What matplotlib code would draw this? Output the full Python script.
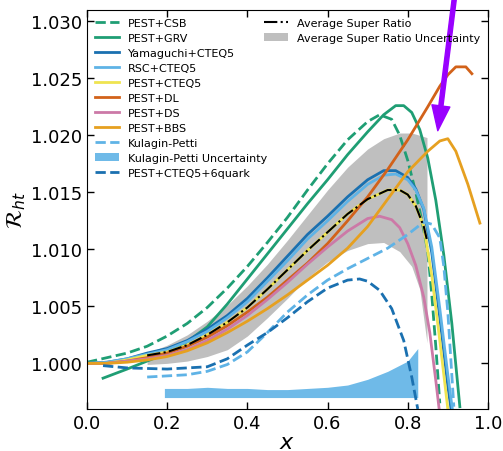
import matplotlib.pyplot as plt

# colours (Okabe-Ito style, a touch softer like the original)
GREEN = '#1f9e74'
BLUE = '#1a70b0'
LBLUE = '#5fb3e6'
YELLOW = '#efe450'
RED = '#d2621a'
PINK = '#cc79a7'
ORANGE = '#e6a020'

# ---- data ----
x_csb = [0.0, 0.05, 0.1, 0.15, 0.2, 0.25, 0.3, 0.35, 0.4, 0.45, 0.5, 0.55, 0.6, 0.65,
         0.7, 0.73, 0.76, 0.78, 0.8, 0.82, 0.84, 0.85, 0.86, 0.87, 0.88]
r_csb = [1.0001, 1.0005, 1.0009, 1.0015, 1.0024, 1.0035, 1.0049, 1.0066, 1.0085, 1.0106,
         1.0128, 1.0152, 1.0175, 1.0196, 1.0212, 1.0218, 1.0214, 1.0200, 1.0178, 1.0150,
         1.0117, 1.0098, 1.0060, 1.0015, 0.9965]

x_grv = [0.04, 0.1, 0.15, 0.2, 0.25, 0.3, 0.35, 0.4, 0.45, 0.5, 0.55, 0.6, 0.65, 0.7,
         0.74, 0.77, 0.79, 0.81, 0.83, 0.85, 0.87, 0.89, 0.91, 0.93]
r_grv = [0.9987, 0.9995, 1.0002, 1.0009, 1.0019, 1.0032, 1.0052, 1.0074, 1.0096, 1.0118,
         1.0140, 1.0161, 1.0183, 1.0203, 1.0218, 1.0226, 1.0226, 1.0220, 1.0205, 1.0180,
         1.0143, 1.0095, 1.0035, 0.9962]

x_yam = [0.0, 0.05, 0.1, 0.15, 0.2, 0.25, 0.3, 0.35, 0.4, 0.45, 0.5, 0.55, 0.6, 0.65,
         0.7, 0.74, 0.77, 0.8, 0.82, 0.84, 0.86, 0.88, 0.9, 0.91]
r_yam = [1.0000, 1.0001, 1.0004, 1.0009, 1.0013, 1.0020, 1.0030, 1.0042, 1.0057, 1.0075,
         1.0094, 1.0113, 1.0129, 1.0146, 1.0161, 1.0169, 1.0169, 1.0163, 1.0153, 1.0135,
         1.0097, 1.0040, 0.9980, 0.9955]

x_rsc = [0.0, 0.05, 0.1, 0.15, 0.2, 0.25, 0.3, 0.35, 0.4, 0.45, 0.5, 0.55, 0.6, 0.65,
         0.7, 0.74, 0.77, 0.8, 0.82, 0.84, 0.86, 0.88, 0.9, 0.915]
r_rsc = [1.0000, 1.0001, 1.0004, 1.0008, 1.0012, 1.0019, 1.0028, 1.0040, 1.0054, 1.0072,
         1.0090, 1.0109, 1.0125, 1.0142, 1.0157, 1.0165, 1.0166, 1.0161, 1.0152, 1.0136,
         1.0102, 1.0048, 0.9990, 0.9950]

x_cteq = [0.0, 0.05, 0.1, 0.15, 0.2, 0.25, 0.3, 0.35, 0.4, 0.45, 0.5, 0.55, 0.6, 0.65,
          0.7, 0.75, 0.78, 0.8, 0.82, 0.84, 0.86, 0.88, 0.9, 0.905]
r_cteq = [1.0000, 1.0000, 1.0003, 1.0007, 1.0010, 1.0016, 1.0025, 1.0036, 1.0049, 1.0065,
          1.0082, 1.0099, 1.0115, 1.0131, 1.0144, 1.0152, 1.0152, 1.0148, 1.0138, 1.0120,
          1.0077, 1.0020, 0.9960, 0.9950]

x_dl = [0.0, 0.05, 0.1, 0.15, 0.2, 0.25, 0.3, 0.35, 0.4, 0.45, 0.5, 0.55, 0.6, 0.65,
        0.7, 0.75, 0.8, 0.85, 0.88, 0.9, 0.92, 0.945, 0.96]
r_dl = [1.0000, 1.0000, 1.0002, 1.0005, 1.0009, 1.0015, 1.0023, 1.0033, 1.0045, 1.0058,
        1.0073, 1.0088, 1.0105, 1.0125, 1.0146, 1.0170, 1.0196, 1.0225, 1.0243, 1.0253,
        1.0260, 1.0260, 1.0254]

x_ds = [0.0, 0.05, 0.1, 0.15, 0.2, 0.25, 0.3, 0.35, 0.4, 0.45, 0.5, 0.55, 0.6, 0.65,
        0.7, 0.73, 0.76, 0.78, 0.8, 0.82, 0.84, 0.855, 0.87, 0.88]
r_ds = [1.0000, 1.0000, 1.0002, 1.0004, 1.0007, 1.0012, 1.0020, 1.0030, 1.0042, 1.0056,
        1.0071, 1.0087, 1.0102, 1.0116, 1.0127, 1.0129, 1.0126, 1.0119, 1.0105, 1.0086,
        1.0058, 1.0027, 0.9985, 0.9955]

x_bbs = [0.0, 0.05, 0.1, 0.15, 0.2, 0.25, 0.3, 0.35, 0.4, 0.45, 0.5, 0.55, 0.6, 0.65,
         0.7, 0.75, 0.8, 0.85, 0.88, 0.9, 0.92, 0.95, 0.98]
r_bbs = [1.0000, 1.0000, 1.0001, 1.0003, 1.0006, 1.0011, 1.0018, 1.0027, 1.0037, 1.0048,
         1.0060, 1.0073, 1.0086, 1.0101, 1.0120, 1.0144, 1.0168, 1.0186, 1.0195, 1.0197,
         1.0186, 1.0157, 1.0123]

x_kp = [0.15, 0.2, 0.25, 0.3, 0.35, 0.4, 0.45, 0.5, 0.55, 0.6, 0.65, 0.7, 0.75, 0.8,
        0.84, 0.86, 0.88, 0.89, 0.9, 0.915]
r_kp = [0.9988, 0.9989, 0.9990, 0.9993, 0.9999, 1.0010, 1.0027, 1.0045, 1.0060, 1.0073,
        1.0083, 1.0092, 1.0101, 1.0113, 1.0124, 1.0122, 1.0110, 1.0085, 1.0045, 0.9962]

x_kp_unc = [0.193, 0.25, 0.3, 0.35, 0.4, 0.45, 0.5, 0.55, 0.6, 0.65, 0.7, 0.75, 0.8, 0.825]
kp_unc_lo = [0.9970] * len(x_kp_unc)
kp_unc_hi = [0.9978, 0.9978, 0.9979, 0.9978, 0.9978, 0.9977, 0.9977, 0.9978, 0.9979,
             0.9981, 0.9986, 0.9993, 1.0002, 1.0013]

x_6q = [0.04, 0.1, 0.2, 0.3, 0.35, 0.4, 0.45, 0.5, 0.55, 0.6, 0.65, 0.68, 0.7, 0.73,
        0.76, 0.79, 0.81, 0.825]
r_6q = [0.9998, 0.9996, 0.9995, 0.9997, 1.0004, 1.0016, 1.0027, 1.0040, 1.0054, 1.0066,
        1.0073, 1.0074, 1.0072, 1.0064, 1.0048, 1.0020, 0.9988, 0.9960]

x_avg = [0.15, 0.2, 0.25, 0.3, 0.35, 0.4, 0.45, 0.5, 0.55, 0.6, 0.65, 0.7, 0.75, 0.78,
         0.8, 0.82, 0.84, 0.848]
r_avg = [1.0007, 1.0010, 1.0016, 1.0025, 1.0036, 1.0049, 1.0065, 1.0082, 1.0099, 1.0115,
         1.0131, 1.0144, 1.0152, 1.0152, 1.0148, 1.0138, 1.0120, 1.0108]

x_band = [0.15, 0.2, 0.25, 0.3, 0.35, 0.4, 0.45, 0.5, 0.55, 0.6, 0.65, 0.7, 0.74, 0.78,
          0.81, 0.83, 0.848]
band_hi = [1.0009, 1.0016, 1.0025, 1.0037, 1.0051, 1.0068, 1.0087, 1.0108, 1.0130, 1.0152,
           1.0172, 1.0188, 1.0197, 1.0202, 1.0202, 1.0200, 1.0198]
band_lo = [0.9999, 1.0000, 1.0002, 1.0006, 1.0012, 1.0024, 1.0040, 1.0057, 1.0075, 1.0089,
           1.0099, 1.0105, 1.0106, 1.0098, 1.0085, 1.0065, 1.0018]

fig, ax = plt.subplots(figsize=(5.03, 4.52), dpi=100)
fig.subplots_adjust(left=0.173, right=0.970, bottom=0.093, top=0.976)

band = ax.fill_between(x_band, band_lo, band_hi, color='gray', alpha=0.5, lw=0,
                       label='Average Super Ratio Uncertainty')
kp_fill = ax.fill_between(x_kp_unc, kp_unc_lo, kp_unc_hi, color=LBLUE, alpha=0.9, lw=0,
                          label='Kulagin-Petti Uncertainty')

l_csb, = ax.plot(x_csb, r_csb, '--', color=GREEN, lw=2, label='PEST+CSB')
l_grv, = ax.plot(x_grv, r_grv, '-', color=GREEN, lw=2, label='PEST+GRV')
l_yam, = ax.plot(x_yam, r_yam, '-', color=BLUE, lw=2, label='Yamaguchi+CTEQ5')
l_rsc, = ax.plot(x_rsc, r_rsc, '-', color=LBLUE, lw=2, label='RSC+CTEQ5')
l_cteq, = ax.plot(x_cteq, r_cteq, '-', color=YELLOW, lw=2, label='PEST+CTEQ5')
l_dl, = ax.plot(x_dl, r_dl, '-', color=RED, lw=2, label='PEST+DL')
l_ds, = ax.plot(x_ds, r_ds, '-', color=PINK, lw=2, label='PEST+DS')
l_bbs, = ax.plot(x_bbs, r_bbs, '-', color=ORANGE, lw=2, label='PEST+BBS')
l_kp, = ax.plot(x_kp, r_kp, '--', color=LBLUE, lw=2, label='Kulagin-Petti')
l_6q, = ax.plot(x_6q, r_6q, '--', color=BLUE, lw=2, label='PEST+CTEQ5+6quark')
l_avg, = ax.plot(x_avg, r_avg, '-.', color='black', lw=1.5, label='Average Super Ratio')

ax.set_xlim(0.0, 1.0)
ax.set_ylim(0.996, 1.031)
ax.set_xticks([0.0, 0.2, 0.4, 0.6, 0.8, 1.0])
ax.set_yticks([1.000, 1.005, 1.010, 1.015, 1.020, 1.025, 1.030])
ax.tick_params(direction='in', top=True, right=True, labelsize=13, length=5, width=1)
ax.set_xlabel('$x$', fontsize=16, labelpad=0)
ax.set_ylabel(r'$\mathcal{R}_{ht}$', fontsize=16, labelpad=2)

leg1 = ax.legend(handles=[l_csb, l_grv, l_yam, l_rsc, l_cteq, l_dl, l_ds, l_bbs, l_kp,
                          kp_fill, l_6q],
                 loc='upper left', frameon=False, fontsize=8, labelspacing=0.45,
                 borderaxespad=0.3, handlelength=2.2)
ax.add_artist(leg1)
ax.legend(handles=[l_avg, band], loc='upper right', frameon=False, fontsize=8,
          labelspacing=0.45, borderaxespad=0.3, handlelength=2.2)

# purple arrow pointing at the DL/BBS region
ax.annotate('', xy=(0.875, 1.0204), xytext=(0.918, 1.0325),
            arrowprops=dict(facecolor='#9900ff', edgecolor='#9900ff', width=3,
                            headwidth=13, headlength=18, shrink=0),
            annotation_clip=False)

fig.savefig('out.png', dpi=100)
